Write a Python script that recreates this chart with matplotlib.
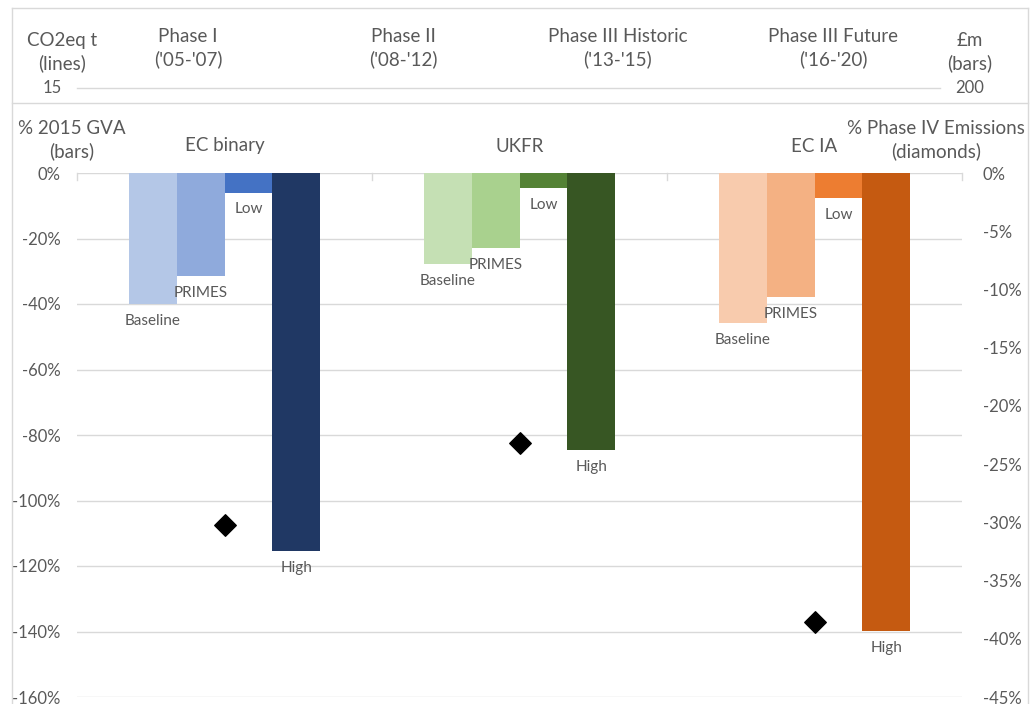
import matplotlib
matplotlib.use('Agg')
import matplotlib.pyplot as plt
import matplotlib.transforms as mtrans
import numpy as np
from matplotlib.lines import Line2D

plt.rcParams['font.family'] = ['Lato', 'DejaVu Sans']

# data
groups = ['EC binary', 'UKFR', 'EC IA']
series = ['Baseline', 'PRIMES', 'Low', 'High']
gva_pct = {
    'EC binary': [-40.0, -31.5, -6.0, -115.5],
    'UKFR': [-27.8, -22.9, -4.6, -84.6],
    'EC IA': [-45.8, -37.9, -7.6, -139.8],
}
emis_pct = [-30.2, -23.2, -38.6]   # diamonds, right axis
colors = {
    'EC binary': ['#B4C7E7', '#8FAADC', '#4472C4', '#203864'],
    'UKFR': ['#C5E0B4', '#A9D18E', '#548235', '#375623'],
    'EC IA': ['#F8CBAD', '#F4B183', '#ED7D31', '#C55A11'],
}
phases = ["Phase I\n('05-'07)", "Phase II\n('08-'12)",
          "Phase III Historic\n('13-'15)", "Phase III Future\n('16-'20)"]

TXT = '#595959'
GRID = '#D9D9D9'
W, H = 1035, 704

fig = plt.figure(figsize=(10.35, 7.04), dpi=100)

def fx(px):
    return px / W

def fy(py):
    return 1 - py / H

# frame
fig.add_artist(Line2D([fx(12), fx(1028)], [fy(8), fy(8)], color=GRID, lw=1))
fig.add_artist(Line2D([fx(12), fx(12)], [fy(8), 0], color=GRID, lw=1))
fig.add_artist(Line2D([fx(1028), fx(1028)], [fy(8), 0], color=GRID, lw=1))
fig.add_artist(Line2D([fx(12), fx(1028)], [fy(103), fy(103)], color=GRID, lw=1))

# header strip
fig.add_artist(Line2D([fx(77), fx(940)], [fy(88), fy(88)], color=GRID, lw=1))
fig.text(fx(62), fy(52), 'CO2eq t\n(lines)', ha='center', va='center',
         fontsize=13.5, color=TXT, linespacing=1.35)
fig.text(fx(52), fy(88), '15', ha='center', va='center', fontsize=12, color=TXT)
fig.text(fx(970), fy(52), '£m\n(bars)', ha='center', va='center',
         fontsize=13.5, color=TXT, linespacing=1.35)
fig.text(fx(970), fy(88), '200', ha='center', va='center', fontsize=12, color=TXT)
for i, ph in enumerate(phases):
    fig.text(fx(188 + i * 215), fy(48), ph, ha='center', va='center',
             fontsize=13.5, color=TXT, linespacing=1.35)

# main chart
ax = fig.add_axes([fx(77), fy(697), fx(962) - fx(77), fy(173) - fy(697)])
ax2 = ax.twinx()

n = len(series)
bw = 0.162
x = np.arange(len(groups))
for gi, g in enumerate(groups):
    for si, s in enumerate(series):
        xpos = gi + (si - (n - 1) / 2) * bw
        v = gva_pct[g][si]
        ax.bar(xpos, v, width=bw, color=colors[g][si], zorder=2)
        ax.annotate(s, (xpos, v), xytext=(0, -7), textcoords='offset points',
                    ha='center', va='top', fontsize=11, color=TXT)

ax.set_xlim(-0.5, len(groups) - 0.5)
ax.set_ylim(-160, 0)
ax.set_yticks(np.arange(-160, 1, 20))
ax.set_yticklabels([f'{t}%' for t in range(-160, 1, 20)])
ax.yaxis.grid(True, color=GRID, lw=1, zorder=0)
ax.set_axisbelow(True)
ax.set_xticks([])
for sp in ax.spines.values():
    sp.set_visible(False)
ax.tick_params(axis='y', length=0, pad=12, labelsize=12, labelcolor=TXT)

# category tick marks on the 0% line
for b in np.arange(-0.5, len(groups), 1.0):
    ax.plot([b, b], [0, -2], color=GRID, lw=1, clip_on=False, zorder=1)

ax2.scatter(x, emis_pct, marker='D', s=120, color='black', zorder=5)
ax2.set_ylim(-45, 0)
ax2.set_yticks(np.arange(-45, 1, 5))
ax2.set_yticklabels([f'{t}%' for t in range(-45, 1, 5)])
for sp in ax2.spines.values():
    sp.set_visible(False)
ax2.tick_params(axis='y', length=0, pad=15, labelsize=12, labelcolor=TXT)

# axis titles and group titles
fig.text(fx(72), fy(140), '% 2015 GVA\n(bars)', ha='center', va='center',
         fontsize=13.5, color=TXT, linespacing=1.3)
fig.text(fx(936), fy(140), '% Phase IV Emissions\n(diamonds)', ha='center',
         va='center', fontsize=13.5, color=TXT, linespacing=1.3)
title_off = mtrans.ScaledTranslation(0, 27 / 100, fig.dpi_scale_trans)
for gi, g in enumerate(groups):
    ax.text(gi, 0, g, transform=ax.transData + title_off, ha='center',
            va='center', fontsize=13.5, color=TXT)

fig.savefig('out.png', dpi=100)
